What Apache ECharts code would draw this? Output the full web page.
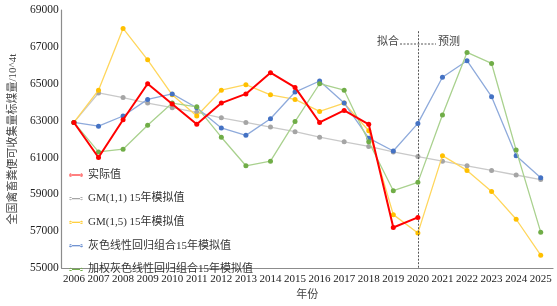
<!DOCTYPE html>
<html>
<head>
    <meta charset="utf-8">
    <title>ECharts</title>
    <script src="https://cdn.jsdelivr.net/npm/echarts@6/dist/echarts.min.js"></script>
    <style>
        *{
            margin: 0;
            padding: 0;
        }
        html,body{
            width: 100%;
            height: 100%;
            overflow: hidden;
            background: #fff;
        }
        .container{
            width: 557px;
            height: 306px;
        }
    </style>
</head>
<body>
<div class="container"></div>

<script>
    // 年份
    let years = ['2006','2007','2008','2009','2010','2011','2012','2013','2014','2015',
                 '2016','2017','2018','2019','2020','2021','2022','2023','2024','2025'];
    // 实际值 (2006-2020)
    let actual = [62900, 61000, 63050, 65000, 63900, 62800, 63950, 64450, 65600, 64800,
                  62900, 63550, 62800, 57200, 57750];
    let gm11 = [62900, 64500, 64250, 63950, 63700, 63450, 63150, 62900, 62650, 62400,
                62100, 61850, 61600, 61300, 61050, 60800, 60550, 60300, 60050, 59800];
    let gm15 = [62900, 64650, 68000, 66300, 64400, 63250, 64650, 64950, 64400, 64150,
                63500, 63950, 62450, 57900, 56900, 61100, 60300, 59150, 57650, 55700];
    let combo = [62900, 62700, 63250, 64150, 64450, 63700, 62600, 62200, 63100, 64550,
                 65150, 63950, 62050, 61350, 62850, 65350, 66250, 64300, 61100, 59900];
    let weighted = [62900, 61300, 61450, 62750, 63950, 63750, 62100, 60550, 60800, 62950,
                    65000, 64650, 61850, 59200, 59650, 63300, 66700, 66100, 61400, 56950];
    let splitYear = '2020';

    let font = '"Liberation Serif", "Noto Sans CJK SC", serif';
    // 图例图标: 点—线—点
    let legendIcon = 'path://M0,4.2H20V5.8H0Z M0,5A2.2,2.2 0 1,0 4.4,5A2.2,2.2 0 1,0 0,5Z M15.6,5A2.2,2.2 0 1,0 20,5A2.2,2.2 0 1,0 15.6,5Z';

    function makeSeries(name, data, lineColor, dotColor, width, z) {
        return {
            name: name,
            type: 'line',
            data: data,
            z: z,
            symbol: 'circle',
            symbolSize: 5,
            showSymbol: true,
            lineStyle: { color: lineColor, width: width },
            itemStyle: { color: dotColor }
        };
    }

    let chart = echarts.init(document.querySelector('.container'));
    let series = [
        makeSeries('实际值', actual, '#ff0000', '#ff0000', 2, 10),
        makeSeries('GM(1,1) 15年模拟值', gm11, '#c9c9c9', '#a5a5a5', 1.3, 3),
        makeSeries('GM(1,5) 15年模拟值', gm15, '#ffd65c', '#ffc000', 1.3, 4),
        makeSeries('灰色线性回归组合15年模拟值', combo, '#8eaadb', '#4472c4', 1.3, 5),
        makeSeries('加权灰色线性回归组合15年模拟值', weighted, '#a9d18e', '#70ad47', 1.3, 6)
    ];
    series[0].markLine = {
        silent: true,
        symbol: 'none',
        label: { show: false },
        lineStyle: { color: '#555', type: [2, 1.5], width: 1 },
        data: [[{ xAxis: splitYear, yAxis: 67850 }, { xAxis: splitYear, yAxis: 55000 }]]
    };

    let option = {
        animation: false,
        backgroundColor: '#fff',
        textStyle: { fontFamily: font },
        grid: { left: 51, right: 4, top: 10, bottom: 25 },
        legend: {
            orient: 'vertical',
            left: 64,
            top: 163,
            icon: legendIcon,
            itemWidth: 14,
            itemHeight: 5,
            itemGap: 9.6,
            textStyle: { fontSize: 11, color: '#333', fontFamily: font, lineHeight: 14 },
            data: series.map(s => ({ name: s.name, itemStyle: { color: s.itemStyle.color } }))
        },
        xAxis: {
            type: 'category',
            data: years,
            boundaryGap: true,
            name: '年份',
            nameLocation: 'middle',
            nameGap: 18,
            nameTextStyle: { fontSize: 11, color: '#444', fontFamily: font },
            axisLine: { lineStyle: { color: '#8c8c8c', width: 1.2 } },
            axisTick: { show: false },
            axisLabel: { interval: 0, fontSize: 11, color: '#222', margin: 6, fontFamily: font }
        },
        yAxis: {
            type: 'value',
            min: 55000,
            max: 69000,
            interval: 2000,
            name: '全国禽畜粪便可收集量标煤量/10^4t',
            nameLocation: 'middle',
            nameGap: 39,
            nameTextStyle: { fontSize: 11, color: '#444', fontFamily: font },
            axisLine: { show: true, lineStyle: { color: '#8c8c8c', width: 1.2 } },
            axisTick: { show: false },
            splitLine: { show: false },
            axisLabel: {
                fontSize: 11.5, color: '#222', margin: 3, fontFamily: font,
                formatter: v => String(v)
            }
        },
        graphic: [
            { type: 'text', left: 377, top: 37,
              style: { text: '拟合', fontSize: 11, fill: '#444', fontFamily: font } },
            { type: 'text', left: 438, top: 37,
              style: { text: '预测', fontSize: 11, fill: '#444', fontFamily: font } },
            { type: 'line', shape: { x1: 400, y1: 44, x2: 436, y2: 44 },
              style: { stroke: '#555', lineWidth: 1, lineDash: [2, 1.5] } }
        ],
        series: series
    };
    chart.setOption(option);
</script>
</body>
</html>
